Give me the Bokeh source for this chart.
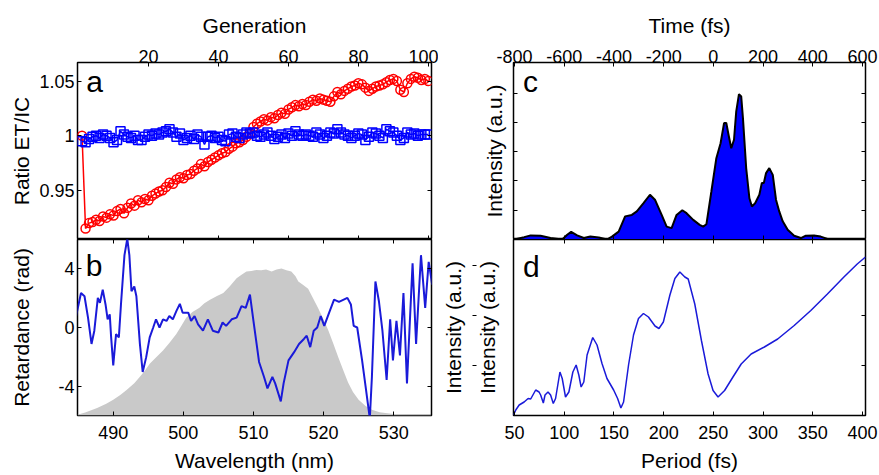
from bokeh.plotting import figure
from bokeh.models import LinearAxis, FixedTicker, Label, Range1d
from bokeh.layouts import row, column
from bokeh.embed import file_html
from bokeh.resources import INLINE

FONT = "Liberation Sans"

# ---------------- panel a : ratio vs generation ----------------
generation = list(range(1, 101))
ratio_red = [1.000, 0.915, 0.920, 0.921, 0.923, 0.922, 0.926, 0.925, 0.928, 0.927,
             0.931, 0.933, 0.929, 0.934, 0.938, 0.936, 0.941, 0.939, 0.942, 0.941,
             0.945, 0.947, 0.949, 0.950, 0.953, 0.957, 0.956, 0.960, 0.962, 0.961,
             0.964, 0.965, 0.968, 0.970, 0.974, 0.972, 0.976, 0.978, 0.980, 0.982,
             0.984, 0.985, 0.988, 0.990, 0.993, 0.994, 0.996, 0.999, 1.002, 1.008,
             1.011, 1.013, 1.015, 1.014, 1.017, 1.016, 1.019, 1.021, 1.020, 1.024,
             1.026, 1.028, 1.027, 1.029, 1.028, 1.031, 1.033, 1.032, 1.034, 1.033,
             1.032, 1.031, 1.036, 1.040, 1.038, 1.041, 1.043, 1.045, 1.046, 1.048,
             1.047, 1.044, 1.041, 1.043, 1.045, 1.046, 1.047, 1.049, 1.051, 1.052,
             1.050, 1.042, 1.040, 1.048, 1.052, 1.054, 1.053, 1.051, 1.052, 1.050]
ratio_blue = [0.995, 0.994, 0.997, 0.999, 1.000, 0.998, 1.001, 1.000, 0.998, 0.994,
              0.996, 1.004, 1.001, 0.999, 0.998, 1.000, 0.996, 0.996, 0.999, 1.001,
              1.000, 1.002, 1.001, 1.003, 1.004, 1.006, 1.003, 0.999, 1.002, 0.996,
              0.998, 1.000, 0.997, 1.001, 0.999, 0.992, 0.999, 1.000, 0.998, 0.999,
              0.996, 0.995, 1.001, 1.002, 0.999, 0.998, 1.001, 1.003, 1.002, 1.003,
              1.000, 0.999, 1.001, 1.003, 1.000, 0.997, 0.999, 1.001, 0.998, 1.002,
              1.000, 1.004, 1.001, 1.000, 1.001, 1.000, 0.999, 1.003, 1.001, 0.998,
              1.000, 1.003, 1.002, 1.006, 1.003, 1.001, 1.000, 0.998, 1.000, 1.002,
              1.001, 0.996, 0.999, 1.003, 1.002, 1.000, 0.998, 1.006, 1.004, 1.003,
              1.000, 0.996, 0.998, 1.003, 1.001, 1.002, 1.000, 1.001, 1.001, 1.001]
gen_ticks = [20, 40, 60, 80, 100]
gen_labels = ["20", "40", "60", "80", "100"]
ratio_ticks = [0.95, 1, 1.05]
ratio_labels = ["0.95", "1", "1.05"]

# ---------------- panel b : retardance & spectrum ----------------
spec_wl = [484.9, 486.0, 487.7, 489.0, 490.0, 491.0, 491.9, 493.0, 493.8, 494.5,
           495.2, 496.2, 497.1, 498.0, 499.0, 499.7, 500.4, 501.3, 502.3, 503.0,
           503.8, 504.8, 505.7, 506.6, 507.6, 508.3, 509.0, 509.7, 510.4, 511.1,
           511.8, 512.6, 513.3, 514.0, 514.7, 515.4, 516.0, 516.4, 517.1, 517.8,
           518.5, 519.2, 520.0, 520.7, 521.4, 522.1, 522.8, 523.5, 524.2, 525.0,
           526.0, 526.9, 528.0, 528.8, 530.0, 532.0, 535.4]
spec_val = [-5.95, -5.8, -5.49, -5.2, -4.93, -4.6, -4.26, -3.8, -3.36, -2.95,
            -2.47, -2.0, -1.57, -1.05, -0.45, 0.1, 0.67, 1.05, 1.34, 1.65,
            1.9, 2.15, 2.35, 2.8, 3.36, 3.6, 3.81, 3.85, 3.92, 3.9,
            3.95, 3.82, 3.95, 4.03, 3.9, 3.81, 3.5, 3.14, 2.9, 2.65,
            2.0, 1.34, 0.55, -0.22, -1.1, -2.02, -2.9, -3.75, -4.4, -4.93,
            -5.35, -5.6, -5.78, -5.83, -5.9, -5.95, -5.97]
ret_wl = [484.7, 485.4, 485.9, 486.4, 486.9, 487.3, 487.8, 488.1, 488.5, 488.9,
          489.2, 489.5, 489.7, 490.0, 490.4, 490.8, 491.1, 491.6, 492.0, 492.3,
          492.6, 493.0, 493.3, 493.8, 494.2, 494.7, 495.2, 495.7, 496.1, 496.6,
          497.1, 497.6, 498.0, 498.5, 499.0, 499.5, 499.9, 500.7, 501.1, 501.6,
          502.1, 502.8, 503.5, 504.2, 505.0, 505.6, 506.1, 506.9, 507.6, 508.3,
          508.9, 509.5, 510.0, 510.8, 511.5, 512.0, 512.7, 513.1, 513.9, 514.3,
          515.0, 515.8, 516.5, 517.2, 517.6, 518.1, 518.6, 519.1, 519.6, 520.1,
          520.8, 521.5, 522.2, 523.4, 523.9, 524.3, 524.8, 525.5, 526.0, 526.6,
          526.9, 527.4, 527.9, 528.4, 529.0, 529.5, 529.9, 530.4, 530.9, 531.4,
          531.9, 532.7, 533.2, 533.9, 534.5, 535.0, 535.5]
ret_val = [0.78, 2.35, 2.13, 0.67, -1.12, -0.22, 2.02, 1.68, 2.58, 1.57,
           0.56, 0.9, -0.67, -2.58, -0.45, -0.67, 1.57, 4.93, 6.05, 4.93,
           2.47, 2.8, 2.13, -1.12, -3.03, -2.02, -0.67, 0.0, 0.56, 0.0,
           0.56, 0.45, 0.78, 0.56, 1.12, 1.61, 1.01, 1.01, 0.45, 0.78,
           0.22, -0.22, 0.56, -0.22, -0.34, 0.34, 0.11, 0.56, 0.67, 1.46,
           1.34, 2.24, 0.45, -2.35, -3.36, -4.15, -3.36, -3.81, -5.04, -3.81,
           -2.24, -1.68, -1.12, -0.78, -0.56, -1.34, -0.22, 0.0, 0.78, 0.11,
           1.01, 1.9, 1.75, 2.02, 1.57, 0.11, 0.0, -2.24, -4.03, -6.2,
           -3.36, 3.14, 1.79, -0.22, -3.58, 0.56, -2.24, 0.45, -1.9, 2.35,
           -3.81, 4.37, -1.12, 4.93, 1.34, 4.48, 2.91]
wl_ticks = [490, 500, 510, 520, 530]
wl_labels = ["490", "500", "510", "520", "530"]
ret_ticks = [-4, 0, 4]
ret_labels = ["-4", "0", "4"]

# ---------------- panel c : temporal intensity ----------------
time_fs = [-801, -761, -735, -695, -655, -608, -588, -572, -548, -521,
           -495, -461, -428, -408, -381, -355, -328, -308, -281, -255,
           -235, -208, -188, -168, -148, -125, -108, -81, -55, -41,
           -28, -8, 12, 29, 43, 52, 61, 72, 83, 92,
           103, 112, 119, 132, 145, 155, 168, 185, 195, 203,
           212, 225, 239, 252, 265, 279, 299, 325, 352, 372,
           405, 432, 459, 499, 525, 565, 612]
time_int = [0.0, 0.08, 0.14, 0.13, 0.05, 0.0, 0.16, 0.26, 0.14, 0.05,
            0.1, 0.07, 0.0, 0.1, 0.27, 0.79, 0.84, 0.96, 1.24, 1.53,
            1.36, 0.84, 0.44, 0.39, 0.84, 1.0, 0.9, 0.67, 0.5, 0.44,
            0.52, 1.64, 2.78, 3.29, 3.98, 3.98, 3.58, 3.12, 3.41, 4.38,
            4.97, 4.89, 4.15, 2.44, 1.41, 1.13, 1.24, 1.53, 1.93, 1.93,
            2.27, 2.44, 2.21, 1.36, 0.96, 0.62, 0.33, 0.13, 0.05, 0.13,
            0.14, 0.1, 0.02, 0.0, 0.02, 0.01, 0.0]
time_ticks = [-800, -600, -400, -200, 0, 200, 400, 600]
time_labels = ["-800", "-600", "-400", "-200", "0", "200", "400", "600"]
c_yticks = [1, 2, 3, 4, 5]

# ---------------- panel d : spectrum vs period ----------------
period_fs = [49.0, 51.3, 54.7, 59.7, 63.7, 66.3, 71.3, 74.7, 76.3, 79.0,
             80.7, 83.7, 86.3, 89.0, 91.3, 95.7, 98.0, 101.3, 104.7, 108.7,
             112.0, 114.7, 117.0, 119.7, 123.0, 128.7, 133.0, 138.0, 143.0, 149.7,
             153.7, 157.0, 159.7, 164.7, 169.7, 174.7, 179.7, 184.7, 191.3, 195.3,
             199.7, 206.3, 211.3, 216.3, 221.3, 224.7, 231.3, 238.0, 244.7, 249.7,
             254.7, 261.3, 269.7, 278.0, 288.0, 301.3, 314.7, 331.3, 348.0, 364.7,
             381.3, 394.7, 403.0]
period_int = [0.01, 0.11, 0.21, 0.27, 0.34, 0.33, 0.51, 0.47, 0.41, 0.25,
              0.41, 0.47, 0.41, 0.24, 0.34, 0.87, 0.74, 0.37, 0.47, 0.87,
              1.01, 0.81, 0.57, 0.67, 1.21, 1.56, 1.41, 1.04, 0.74, 0.51,
              0.34, 0.15, 0.27, 1.01, 1.61, 1.94, 2.04, 1.97, 1.79, 1.74,
              1.87, 2.41, 2.74, 2.87, 2.77, 2.73, 2.23, 1.5, 0.83, 0.5,
              0.37, 0.5, 0.77, 1.03, 1.23, 1.37, 1.53, 1.8, 2.1, 2.43,
              2.77, 3.03, 3.17]
period_ticks = [50, 100, 150, 200, 250, 300, 350, 400]
period_labels = ["50", "100", "150", "200", "250", "300", "350", "400"]
d_yticks = [1, 2, 3]

BLUE = "#0000ff"
LINE_BLUE = "#1a1ad9"
RED = "#ff0000"
GRAY = "#c9c9c9"


def make_fig(xr, yr, w, h, ml, mr, mt, mb):
    p = figure(width=w, height=h, x_range=Range1d(*xr), y_range=Range1d(*yr),
               x_axis_type=None, y_axis_type=None,
               output_backend="svg", toolbar_location=None,
               min_border_left=ml, min_border_right=mr,
               min_border_top=mt, min_border_bottom=mb)
    p.outline_line_color = "black"
    p.outline_line_width = 1.5
    p.background_fill_color = "white"
    p.border_fill_color = "white"
    return p


def add_axis(p, side, ticks, labels=None, axis_label=None, tick_standoff=0,
             label_standoff=0, tick_len=4):
    ax = LinearAxis(ticker=FixedTicker(ticks=ticks))
    ax.major_tick_in = tick_len
    ax.major_tick_out = 0
    ax.minor_tick_in = 0
    ax.minor_tick_out = 0
    ax.axis_line_color = None
    ax.major_tick_line_color = "black" if tick_len else None
    ax.major_tick_line_width = 1
    ax.major_label_standoff = tick_standoff
    if labels is None:
        # tick marks only: labels are neither drawn nor given any room
        ax.major_label_text_font_size = "0px"
        ax.major_label_text_color = None
        ax.major_label_text_alpha = 0
    else:
        ax.major_label_overrides = {t: l for t, l in zip(ticks, labels)}
        ax.major_label_text_font = FONT
        ax.major_label_text_font_size = "18px"
        ax.major_label_text_color = "black"
    if axis_label:
        ax.axis_label = axis_label
        ax.axis_label_text_font = FONT
        ax.axis_label_text_font_size = "21px"
        ax.axis_label_text_font_style = "normal"
        ax.axis_label_text_color = "black"
        ax.axis_label_standoff = label_standoff
    p.add_layout(ax, side)
    return ax


def panel_letter(p, txt, xr, yr, fx, fy):
    p.add_layout(Label(x=xr[0] + fx * (xr[1] - xr[0]), y=yr[0] + fy * (yr[1] - yr[0]),
                       text=txt, text_font=FONT, text_font_size="30px",
                       text_color="black", text_baseline="alphabetic",
                       text_align="left"))


# layout (page pixels): left frames x 77..431, right frames x 511..865,
# top frames y 62..239, bottom frames y 239..415
LW, RW = 438, 440
TH, BH = 239, 236

# ---- a ----
xa, ya = (-0.3, 100.9), (0.905, 1.067)
pa = make_fig(xa, ya, LW, TH, 77, 7, 62, 0)
pa.line(generation, ratio_red, line_color=RED, line_width=1.5)
pa.scatter(generation, ratio_red, marker="circle", size=9, fill_color=None,
           line_color=RED, line_width=1.5)
pa.line(generation, ratio_blue, line_color=BLUE, line_width=1.5)
pa.scatter(generation, ratio_blue, marker="square", size=9, fill_color=None,
           line_color=BLUE, line_width=1.5)
add_axis(pa, "above", gen_ticks, gen_labels, "Generation", 0, 10)
add_axis(pa, "below", gen_ticks)
add_axis(pa, "left", ratio_ticks, ratio_labels, "Ratio ET/IC", 3, 3)
add_axis(pa, "right", ratio_ticks)
panel_letter(pa, "a", xa, ya, 0.025, 0.895)

# ---- b ----
xb, yb = (484.9, 535.4), (-6, 6)
pb = make_fig(xb, yb, LW, BH, 77, 7, 0, 60)
pb.varea(x=spec_wl, y1=-6, y2=spec_val, fill_color=GRAY)
pb.line(ret_wl, ret_val, line_color=LINE_BLUE, line_width=2)
add_axis(pb, "above", wl_ticks)
add_axis(pb, "below", wl_ticks, wl_labels, "Wavelength (nm)", 10, 7)
add_axis(pb, "left", ret_ticks, ret_labels, "Retardance (rad)", 3, 22)
add_axis(pb, "right", ret_ticks)
panel_letter(pb, "b", xb, yb, 0.023, 0.853)

# ---- c ----
xc, yc = (-804, 612), (0, 6.05)
pc = make_fig(xc, yc, RW, TH, 73, 13, 62, 0)
pc.varea(x=time_fs, y1=0, y2=time_int, fill_color=BLUE)
pc.line(time_fs, time_int, line_color="black", line_width=2)
add_axis(pc, "above", time_ticks, time_labels, "Time (fs)", 0, 10)
add_axis(pc, "below", time_ticks[1:-1])
add_axis(pc, "left", c_yticks, None, "Intensity (a.u.)", 0, 8)
add_axis(pc, "right", c_yticks)
panel_letter(pc, "c", xc, yc, 0.027, 0.895)

# ---- d ----
xd, yd = (49, 403), (0, 3.52)
pd_ = make_fig(xd, yd, RW, BH, 73, 13, 0, 60)
pd_.line(period_fs, period_int, line_color=LINE_BLUE, line_width=1.5)
add_axis(pd_, "above", period_ticks[1:-1])
add_axis(pd_, "below", period_ticks, period_labels, "Period (fs)", 10, 7)
# outer duplicate label (added first -> placed outermost), then the ticked axis
add_axis(pd_, "left", d_yticks[:1], None, "Intensity (a.u.)", 0, 15, tick_len=0)
add_axis(pd_, "left", d_yticks, None, "Intensity (a.u.)", 0, 8)
add_axis(pd_, "right", d_yticks)
panel_letter(pd_, "d", xd, yd, 0.027, 0.847)

layout = row(column(pa, pb), column(pc, pd_))
open("out.html", "w").write(file_html(layout, INLINE))
